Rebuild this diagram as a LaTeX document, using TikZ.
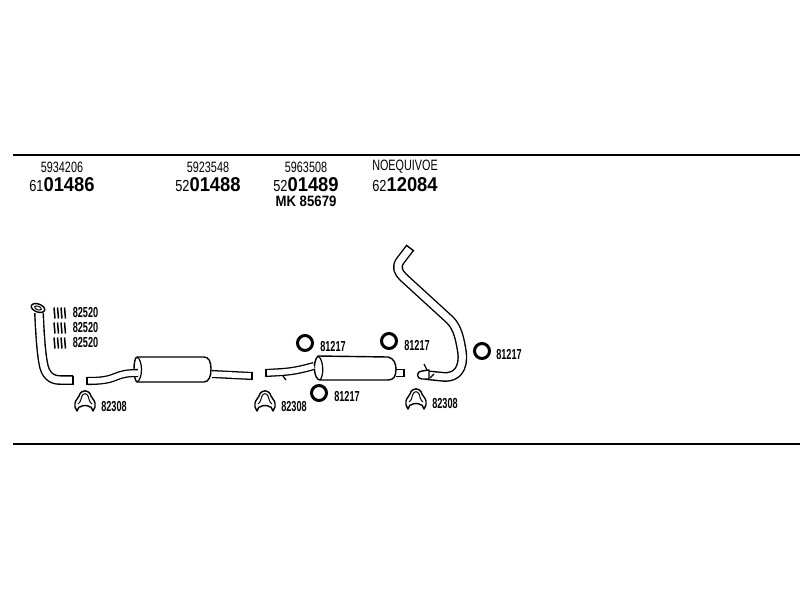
\documentclass[tikz,border=0pt]{standalone}
\usepackage{fontspec}
\setmainfont{Liberation Sans}
\usepackage{tikz}
\tikzset{
	pipe/.style={line width=1.3pt, double=white, double distance=5.5pt, line join=round},
	widepipe/.style={line width=1.4pt, double=white, double distance=7pt, line join=round},
	outline/.style={line width=1.4pt, fill=white, line join=round},
	ring/.style={draw, line width=3pt, circle, minimum size=15pt, inner sep=0pt},
	oldno/.style={font=\fontsize{15}{15}\selectfont, xscale=.72, inner sep=0pt},
	newno/.style={inner sep=0pt},
	partno/.style={font=\fontsize{14.5}{14.5}\selectfont\bfseries, xscale=.63, inner sep=0pt},
}
\newcommand{\catno}[2]{\scalebox{.8}[1]{\fontsize{16}{16}\selectfont #1}\scalebox{.92}[1]{\fontsize{20}{20}\selectfont\bfseries #2}}
\newcommand{\clampat}[1]{
	\draw[outline, shift={(#1)}] (-8, 9)--(-10, 5)--(-10, 1)..controls(-9, -3)and(-7, -3)..(-6, -6)
		..controls(-4, -13)and(4, -13)..(6, -6)..controls(7, -3)and(9, -3)..(10, 1)--(10, 5)--(8, 9)
		--(6, 5)--(5, 5)..controls(3, 3)and(-3, 3)..(-5, 5)--(-6, 5)--cycle;
	\draw[line width=1pt, shift={(#1)}] (-7, 2)..controls(-4, 0)and(-4, -4)..(-3, -6)
		..controls(-2, -9)and(2, -9)..(3, -6)..controls(4, -4)and(4, 0)..(7, 2);
}
\begin{document}
\begin{tikzpicture}[x=1pt, y=-1pt]
	\useasboundingbox(0, 0)rectangle(800, 600);
	\coordinate(lefttop)at(13, 155);
	\coordinate(righttop)at(800, 155);
	\coordinate(leftbottom)at(13, 444);
	\coordinate(rightbottom)at(800, 444);
	\draw[line width=1.6pt](lefttop)--(righttop);
	\draw[line width=1.6pt](leftbottom)--(rightbottom);
	% part numbers
	\node[oldno](old a)at(62, 167){5934206};
	\node[newno](new a)at(62, 185){\catno{61}{01486}};
	\node[oldno](old b)at(208, 167){5923548};
	\node[newno](new b)at(208, 185){\catno{52}{01488}};
	\node[oldno](old c)at(306, 167){5963508};
	\node[newno](new c)at(306, 185){\catno{52}{01489}};
	\node[font=\fontsize{15}{15}\selectfont\bfseries, xscale=.88, inner sep=0](mk)at(306, 201){MK 85679};
	\node[oldno](old d)at(405, 167){NOEQUIVOE};
	\node[newno](new d)at(405, 185){\catno{62}{12084}};
	% front pipe
	\draw[widepipe](39, 313)..controls(40, 335)and(41, 350)..(43, 362)
		..controls(45, 376)and(52, 380)..(60, 380)--(73, 380);
	\draw[line width=1.4pt](73, 375.5)--(73, 384.5);
	\draw[outline, rotate around={-20:(38, 308)}](38, 308)ellipse(7 and 4);
	\draw[line width=1pt, rotate around={-20:(38, 308)}](38, 308)ellipse(3.5 and 1.8);
	\foreach \y/\name in {313/bolt a, 328/bolt b, 343/bolt c}{
		\foreach \x in {54, 57.5, 61, 64.5}
			\draw[line width=1.5pt](\x, \y-5.5)--(\x+1, \y+5.5);
		\node[partno](\name)at(85.5, \y){82520};
	}
	% first silencer
	\draw[pipe](212, 374)--(252, 376);
	\draw[line width=1.3pt](252, 372)--(252, 380);
	\draw[outline](137, 357)--(204, 357)..controls(209, 357)and(211, 362)..(211, 369)
		..controls(211, 376)and(209, 382)..(204, 382)--(137, 382)
		..controls(133, 380)and(133, 358)..(137, 357)--cycle;
	\draw[line width=1.2pt](137, 357)..controls(143, 360)and(143, 379)..(137, 382);
	\draw[pipe](87, 381)..controls(100, 381)and(108, 380)..(115, 377)..controls(122, 374)and(128, 373)..(138, 373);
	\draw[line width=1.3pt](87, 377)--(87, 385);
	\clampat{85, 402}
	\node[partno](clamp a)at(114, 407){82308};
	% second silencer
	\draw[pipe](396, 373)--(404, 373);
	\draw[line width=1.3pt](404, 369)--(404, 377);
	\draw[outline](318, 356)--(388, 357)..controls(394, 358)and(396, 364)..(396, 369)
		..controls(396, 376)and(394, 380)..(388, 380)--(320, 380)
		..controls(314, 380)and(312, 362)..(318, 356)--cycle;
	\draw[line width=1.2pt](318, 356)..controls(324, 360)and(324, 376)..(320, 380);
	\draw[pipe](266, 373)--(283, 372)..controls(295, 371)and(303, 369)..(314, 366);
	\draw[line width=1.3pt](266, 369)--(266, 377);
	\draw[line width=1.3pt](283, 376)--(286, 380);
	\clampat{265, 402}
	\node[partno](clamp b)at(294, 407){82308};
	% tail pipe
	\draw[widepipe](410, 248)--(400, 261)..controls(396, 267)and(398, 272)..(403, 277)
		--(450, 320)..controls(458, 328)and(460, 340)..(462, 352)
		..controls(464, 370)and(456, 377)..(445, 377)--(425, 375);
	\draw[outline](422, 371)--(429, 370)--(429, 379)--(422, 379)..controls(416, 379)and(416, 371)..(422, 371)--cycle;
	\draw[line width=1.2pt](424, 364)--(427, 370)(430, 378)--(434, 374);
	\draw[line width=1.4pt](406, 245)--(414, 251);
	\clampat{416, 400}
	\node[partno](clamp c)at(445, 404){82308};
	% rings
	\node[ring](ring a)at(305, 343){};
	\node[ring](ring b)at(389, 341){};
	\node[ring](ring c)at(482, 351){};
	\node[ring](ring d)at(319, 393){};
	\node[partno](ring no a)at(333, 347){81217};
	\node[partno](ring no b)at(417, 346){81217};
	\node[partno](ring no c)at(509, 355){81217};
	\node[partno](ring no d)at(347, 397){81217};
\end{tikzpicture}
\end{document}
